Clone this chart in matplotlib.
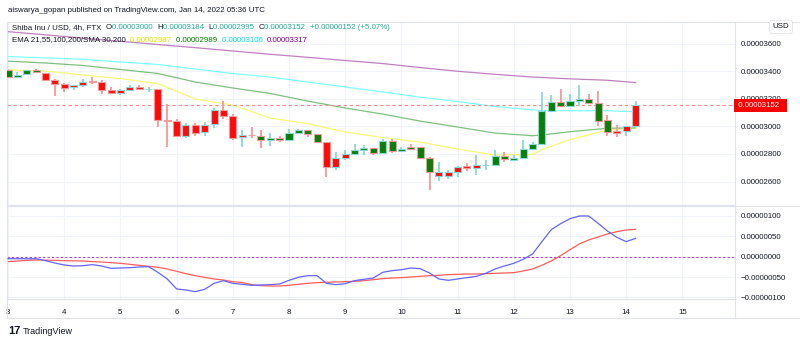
import numpy as np
import pandas as pd
import matplotlib
matplotlib.use('Agg')
import matplotlib.pyplot as plt
from matplotlib.patches import Rectangle
from matplotlib.lines import Line2D

plt.rcParams['font.family'] = ['Liberation Sans', 'DejaVu Sans']

S = 1e-8  # all prices below are in units of 0.00000001 USD

# SHIB/USD 4h candles, Jan 3 00:00 -> Jan 14 04:00
opens = [3408, 3359, 3377, 3408, 3388, 3333, 3306, 3283, 3297, 3328,
         3319, 3261, 3244, 3266, 3285, 3268, 3270, 3043, 3038, 2928,
         3009, 2957, 3014, 3118, 3075, 2920, 2937, 2932, 2901, 2917,
         2901, 2951, 2971, 2944, 2884, 2703, 2770, 2799, 2828, 2843,
         2804, 2893, 2823, 2850, 2850, 2770, 2638, 2638, 2669, 2712,
         2700, 2718, 2720, 2787, 2758, 2770, 2833, 2870, 3111, 3179,
         3147, 3183, 3198, 3171, 3043, 2966, 2966, 3000]
highs = [3412, 3391, 3410, 3415, 3390, 3340, 3316, 3300, 3340, 3357,
         3335, 3283, 3272, 3299, 3299, 3283, 3274, 3159, 3051, 3026,
         3022, 3031, 3135, 3183, 3087, 2973, 2997, 2971, 2949, 2932,
         2980, 2980, 2975, 2948, 2888, 2816, 2828, 2870, 2865, 2846,
         2908, 2908, 2852, 2872, 2853, 2780, 2741, 2683, 2710, 2732,
         2794, 2754, 2826, 2812, 2792, 2901, 2884, 3246, 3227, 3274,
         3232, 3299, 3232, 3256, 3082, 3009, 3005, 3184]
lows = [3352, 3355, 3375, 3388, 3326, 3222, 3246, 3261, 3283, 3304,
        3236, 3240, 3227, 3262, 3261, 3246, 2993, 2852, 2925, 2915,
        2930, 2932, 2990, 3051, 2899, 2852, 2917, 2845, 2859, 2884,
        2898, 2949, 2925, 2880, 2635, 2686, 2754, 2796, 2792, 2792,
        2800, 2809, 2820, 2833, 2766, 2538, 2604, 2620, 2633, 2674,
        2649, 2681, 2717, 2739, 2755, 2767, 2830, 2866, 3108, 3140,
        3140, 3150, 3165, 3002, 2930, 2923, 2932, 2995]
closes = [3359, 3374, 3408, 3391, 3333, 3306, 3280, 3297, 3321, 3319,
          3266, 3244, 3263, 3285, 3268, 3270, 3043, 3038, 2928, 3009,
          2954, 3012, 3118, 3075, 2917, 2935, 2935, 2901, 2917, 2901,
          2951, 2971, 2942, 2884, 2703, 2770, 2799, 2828, 2843, 2804,
          2893, 2823, 2836, 2836, 2770, 2669, 2669, 2669, 2707, 2700,
          2717, 2720, 2787, 2761, 2768, 2833, 2870, 3111, 3174, 3147,
          3183, 3198, 3171, 3041, 2957, 2951, 3002, 3152]

# MACD Crossover (8, 16, 11), same units
macd_line = [-4.8, -5, -5, -5, -9.7, -15.4, -20.3, -22.8, -22, -19.5,
             -22.8, -28.5, -27.7, -26.9, -25.2, -24.4, -38.3, -54.6, -79, -81.6,
             -85.7, -80, -65.3, -58.7, -65.3, -67.7, -70.2, -69.3, -68.5, -66.9,
             -57.9, -50.5, -46.5, -46.5, -65.3, -68.5, -66.1, -58.7, -55.4, -52.2,
             -38.3, -34.2, -31.8, -27.7, -29.3, -39.9, -54.6, -57.9, -54.6, -51.4,
             -48.1, -40.7, -30.1, -22.8, -16.2, -6.4, 6.6, 36.9, 66.3, 81,
             93.2, 99.8, 99.8, 81.8, 63, 47.5, 36.9, 45]
signal_line = [-12.1, -10.5, -9, -8, -8.5, -8.9, -9.7, -10.1, -10.5, -12.1,
               -13, -14.6, -16.2, -18.7, -21.1, -23.6, -26, -30.1, -35.8, -41.6,
               -46.5, -50.5, -54.6, -57.1, -61.2, -63.3, -68.5, -71, -71.8, -71.8,
               -70.2, -67.7, -65.3, -63.6, -62.8, -62, -61.2, -60.3, -58.7, -56.3,
               -53.8, -52.2, -51.4, -49.7, -48.1, -46.5, -45.6, -44, -43.2, -42.4,
               -42.4, -41.6, -40.7, -39.9, -39.1, -35, -30.1, -21.1, -10.5, 2.5,
               17.3, 31.2, 41, 48.3, 55.7, 61.4, 65.5, 67]

ma_idx = [0, 4, 8, 12, 16, 20, 24, 28, 32, 36, 40, 44, 48, 52, 56, 57, 60, 64, 67]
ema21 = [3408, 3401, 3372, 3346, 3310, 3198, 3154, 3060, 3020, 2959,
         2919, 2886, 2836, 2792, 2796, 2830, 2904, 2973, 2987]
ema55 = [3472, 3459, 3441, 3412, 3383, 3321, 3278, 3238, 3183, 3133,
         3089, 3038, 2995, 2951, 2932, 2937, 2961, 2986, 2989]
ema100 = [3506, 3496, 3486, 3466, 3448, 3415, 3383, 3357, 3321, 3285,
          3249, 3212, 3180, 3143, 3120, 3113, 3113, 3113, 3106]
ema200 = [3686, 3663, 3639, 3616, 3593, 3570, 3546, 3522, 3500, 3477,
          3455, 3426, 3399, 3377, 3357, 3354, 3344, 3334, 3317]

price_ticks = [2600, 2800, 3000, 3200, 3400, 3600]
macd_ticks = [-100, -50, 0, 50, 100]
day_ticks = list(range(3, 16))

DARK = '#131722'
GRID = '#f0f3fa'
BORDER = '#e0e3eb'
TEAL = '#22ab94'
FS = 5.7

# x in day-of-month units
times = pd.date_range('2022-01-03 00:00', periods=len(opens), freq='4h')
x = np.asarray((times - pd.Timestamp('2022-01-01')).total_seconds() / 86400 + 1)
o, h, l, c = (np.array(v) * S for v in (opens, highs, lows, closes))
macd = np.array(macd_line) * S
sig = np.array(signal_line) * S

fig = plt.figure(figsize=(8, 3.43), dpi=100)
ax = fig.add_axes([7 / 800, 1 - 205 / 343, 728 / 800, 183 / 343])
ax2 = fig.add_axes([7 / 800, 1 - 299 / 343, 728 / 800, 93 / 343], sharex=ax)

for a in (ax, ax2):
    a.set_facecolor('white')
    a.grid(True, color=GRID, lw=0.8)
    a.set_axisbelow(True)
    for sp in a.spines.values():
        sp.set_color(BORDER)
        sp.set_linewidth(0.8)
    a.yaxis.tick_right()
    a.tick_params(length=0, labelsize=FS, labelcolor=DARK)
    a.tick_params(axis='y', pad=4.3)

# moving averages (behind the candles)
mx = x[ma_idx]
ax.plot(mx, np.array(ema21) * S, color='#f7f77a', lw=0.9, zorder=1)
ax.plot(mx, np.array(ema55) * S, color='#7fbf7f', lw=0.9, zorder=1)
ax.plot(mx, np.array(ema100) * S, color='#80ffff', lw=0.9, zorder=1)
ax.plot(mx, np.array(ema200) * S, color='#bf80bf', lw=0.9, zorder=1)

# candles: body coloured by the MACD crossover, outline/wick by direction
w = 0.75 / 6
for i in range(len(x)):
    up = c[i] >= o[i]
    edge = '#8ad9d6' if up else '#f29a9a'
    face = '#0a7d0a' if macd[i] > sig[i] else '#ff0a0a'
    ax.vlines(x[i], l[i], h[i], color=edge, lw=1.3, zorder=2)
    lo, hi = min(o[i], c[i]), max(o[i], c[i])
    ax.add_patch(Rectangle((x[i] - w / 2, lo), w, max(hi - lo, 2 * S),
                           facecolor=face, edgecolor=edge, lw=0.8, zorder=3))

# last price line + label
last = c[-1]
ax.axhline(last, color='#f28b8b', lw=0.8, ls=(0, (3, 2.5)), zorder=1)
ax.annotate(' %.8f  ' % last, xy=(1, last), xycoords=('axes fraction', 'data'),
            xytext=(1.0, 0), textcoords='offset points', ha='left', va='center',
            fontsize=FS, color='white', annotation_clip=False,
            bbox=dict(boxstyle='square,pad=0.35', fc='#ff0000', ec='none'))

ax.set_xlim(2.982, 15.936)
ax.set_ylim(2430 * S, 3756 * S)
ax.set_yticks(np.array(price_ticks) * S)
ax.set_yticklabels(['%.8f' % (v * S) for v in price_ticks])
ax.set_xticks(day_ticks)
ax.tick_params(axis='x', labelbottom=False)

# MACD panel
ax2.axhline(0, color='#b040d0', lw=0.8, ls=(0, (2, 2)), zorder=1)
ax2.plot(x, sig, color='#ff5c5c', lw=0.9, zorder=2)
ax2.plot(x, macd, color='#6464ff', lw=0.9, zorder=3)
ax2.set_ylim(-103.7 * S, 124.3 * S)
ax2.set_yticks(np.array(macd_ticks) * S)
ax2.set_yticklabels([('%.8f' % (v * S)).replace('-', '\u2212') for v in macd_ticks])
ax2.set_xticks(day_ticks)
ax2.set_xticklabels([str(d) for d in day_ticks])
ax2.tick_params(axis='x', pad=7)

# frame lines of the chart outside the panes
fy = lambda py: 1 - py / 343
fig.add_artist(Line2D([7 / 800, 1], [fy(318)] * 2, color=BORDER, lw=0.8))
fig.add_artist(Line2D([735 / 800, 1], [fy(22)] * 2, color=BORDER, lw=0.8))
fig.add_artist(Line2D([735 / 800, 1], [fy(205.5)] * 2, color=BORDER, lw=0.8))
fig.add_artist(Line2D([7 / 800] * 2, [fy(318), fy(299)], color=BORDER, lw=0.8))
fig.add_artist(Line2D([735 / 800] * 2, [fy(318), fy(299)], color=BORDER, lw=0.8))

# header texts
fig.text(8 / 800, fy(10), 'aiswarya_gopan published on TradingView.com, Jan 14, 2022 05:36 UTC',
         fontsize=FS, color=DARK, va='center')


def chain(parts, x0, y0):
    t = ax.text(x0, y0, parts[0][0], color=parts[0][1], fontsize=FS, va='center',
                transform=fig.transFigure)
    for s, col in parts[1:]:
        t = ax.annotate(s, xy=(1, 0.5), xycoords=t, va='center', ha='left',
                        color=col, fontsize=FS, annotation_clip=False)


chain([('Shiba Inu / USD, 4h, FTX  ', DARK), ('O', DARK), ('0.00003000  ', TEAL),
       ('H', DARK), ('0.00003184  ', TEAL), ('L', DARK), ('0.00002995  ', TEAL),
       ('C', DARK), ('0.00003152  ', TEAL), ('+0.00000152 (+5.07%)', TEAL)],
      12 / 800, fy(27.7))
chain([('EMA 21,55,100,200/SMA 30,200  ', DARK), ('0.00002987  ', '#e6e600'),
       ('0.00002989  ', '#008000'), ('0.00003106  ', '#00e5e5'), ('0.00003317', '#800080')],
      12 / 800, fy(40))
chain([('MACD Crossover (8, 16, 11)  ', DARK), ('0.00000067  ', '#ff0000'),
       ('0.00000045', '#0000ff')],
      12 / 800, fy(216))

fig.text(781 / 800, fy(27), 'USD', fontsize=FS, color=DARK, ha='center', va='center',
         bbox=dict(boxstyle='round,pad=0.4', fc='white', ec=BORDER, lw=0.6))

fig.text(8 / 800, fy(331), '17', fontsize=8, fontweight='bold', color=DARK, va='center')
fig.text(23 / 800, fy(331), 'TradingView', fontsize=6.5, color=DARK, va='center')

fig.savefig('out.png', dpi=100, facecolor='white')
